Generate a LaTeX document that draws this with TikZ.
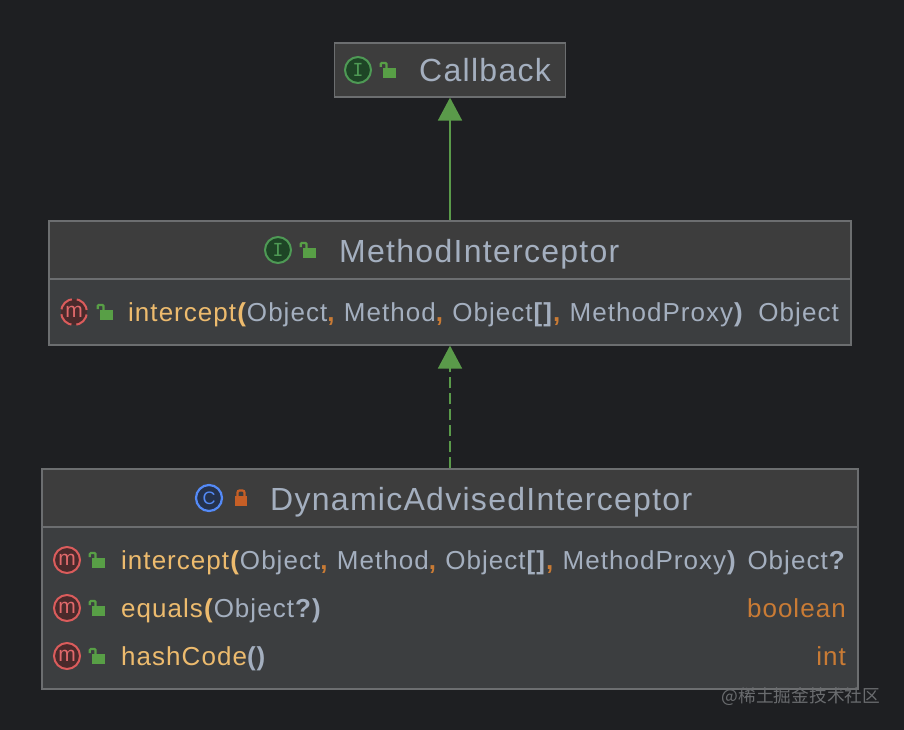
\documentclass[tikz,border=0pt]{standalone}
\usepackage{fontspec}
\setmainfont{Liberation Sans}[LetterSpace=4]
\newfontfamily\cjkmark{Noto Sans CJK SC}
\newfontfamily\monoicon{DejaVu Sans Mono}
\newfontfamily\iconsans{Liberation Sans}
\usetikzlibrary{arrows.meta}
\definecolor{bgc}{HTML}{1E1F22}
\definecolor{boxfill}{HTML}{3C3E40}
\definecolor{titlefill}{HTML}{3D3D3D}
\definecolor{boxline}{HTML}{6C6E70}
\definecolor{txt}{HTML}{A4AFBF}
\definecolor{yel}{HTML}{EDBB6E}
\definecolor{ora}{HTML}{C97B35}
\definecolor{grn}{HTML}{5A9A4A}
\definecolor{lockg}{HTML}{589F46}
\definecolor{iring}{HTML}{4E9A55}
\definecolor{ifill}{HTML}{1E4526}
\definecolor{mring}{HTML}{DB5C5C}
\definecolor{mfill}{HTML}{4A2A2B}
\definecolor{mtxt}{HTML}{E0696B}
\definecolor{cring}{HTML}{548AF7}
\definecolor{cfill}{HTML}{25324D}
\definecolor{priv}{HTML}{C75F26}
\definecolor{wm}{HTML}{6A6C6F}
\newcommand{\lp}{\textbf{(}}
\newcommand{\rp}{\textbf{)}}
\newcommand{\cm}{\textcolor{ora}{\textbf{,}}}
\newcommand{\args}{\textcolor{yel}{intercept\lp}Object\cm{} Method\cm{} Object\textbf{[]}\cm{} MethodProxy\rp}
\tikzset{
  x=1pt,y=-1pt,
  umlbox/.style={draw=boxline,line width=1.2pt,fill=boxfill},
  sepline/.style={draw=boxline,line width=1.4pt},
  titletext/.style={inner sep=0pt,anchor=base west,text=txt,font=\fontsize{32}{36}\selectfont},
  membertext/.style={inner sep=0pt,anchor=base west,text=txt,font=\fontsize{26}{30}\selectfont},
  typetext/.style={inner sep=0pt,anchor=base east,text=txt,font=\fontsize{26}{30}\selectfont},
  inherit/.style={draw=grn,line width=1.8pt,-{Triangle[length=23pt,width=24pt,fill=grn]}},
  realize/.style={inherit,dash pattern=on 11pt off 5pt},
  pics/openlock/.style={code={
    \fill[lockg] (-5,-2) rectangle (8,8);
    \draw[lockg,line width=2.2pt,rounded corners=1pt] (-7.2,-3) -- (-7.2,-7) -- (-1.5,-7) -- (-1.5,-2);
  }},
  pics/privlock/.style={code={
    \fill[priv] (-6,-2) rectangle (6,8);
    \draw[priv,line width=2.2pt,rounded corners=2pt] (-3.5,-2) -- (-3.5,-7.5) -- (3.5,-7.5) -- (3.5,-2);
  }},
  pics/ifaceicon/.style={code={
    \draw[iring,fill=ifill,line width=2pt] (0,0) circle[radius=13];
    \node[inner sep=0pt,text=iring,font=\monoicon\fontsize{18}{18}\selectfont] (-t) at (0,0) {I};
  }},
  pics/classicon/.style={code={
    \draw[cring,fill=cfill,line width=2.2pt] (0,0) circle[radius=13];
    \node[inner sep=0pt,text=cring,font=\iconsans\fontsize{18}{18}\selectfont] (-t) at (0,0) {C};
  }},
  pics/methicon/.style={code={
    \draw[mring,fill=mfill,line width=2pt] (0,0) circle[radius=13];
    \node[inner sep=0pt,text=mtxt,font=\iconsans\fontsize{21}{21}\selectfont,anchor=base] (-t) at (0,5.5) {m};
  }},
  pics/absicon/.style={code={
    \fill[mfill] (0,0) circle[radius=13];
    \draw[mring,line width=2pt,dash pattern=on 15.4pt off 5pt,dash phase=-2.5pt] (0,0) circle[radius=13];
    \node[inner sep=0pt,text=mtxt,font=\iconsans\fontsize{21}{21}\selectfont,anchor=base] (-t) at (0,5.5) {m};
  }},
}
\begin{document}
\begin{tikzpicture}
\useasboundingbox (0,0) rectangle (904,730);
\fill[bgc] (0,0) rectangle (904,730);

% Callback
\node[umlbox,fill=titlefill,minimum width=231pt,minimum height=54pt,inner sep=0pt] (cb) at (450,70) {};
\pic (cbi) at (358,70) {ifaceicon};
\pic (cbl) at (388,70) {openlock};
\node[titletext] (cbt) at (419,82) {Callback};

% MethodInterceptor
\node[umlbox,minimum width=802pt,minimum height=124pt,inner sep=0pt] (mi) at (450,283) {};
\fill[titlefill] (49.6,221.6) rectangle (850.4,279);
\draw[sepline] (49,279) -- (851,279);
\pic (mii) at (278,250) {ifaceicon};
\pic (mil) at (308,250) {openlock};
\node[titletext] (mit) at (339,262) {MethodInterceptor};
\pic (mim) at (74,312) {absicon};
\pic (mil2) at (105,312) {openlock};
\node[membertext] (mim1) at (128,321) {\args};
\node[typetext] (mit1) at (839,321) {Object};

% DynamicAdvisedInterceptor
\node[umlbox,minimum width=816pt,minimum height=220pt,inner sep=0pt] (dy) at (450,579) {};
\fill[titlefill] (42.6,469.6) rectangle (857.4,527);
\draw[sepline] (42,527) -- (858,527);
\pic (dyc) at (209,498) {classicon};
\pic (dyl) at (241,498) {privlock};
\node[titletext] (dyt) at (270,510) {DynamicAdvisedInterceptor};

\pic (m1) at (67,560) {methicon};
\pic (l1) at (97,560) {openlock};
\node[membertext] (t1) at (121,569) {\args};
\node[typetext] (r1) at (846,569) {Object\textbf{?}};

\pic (m2) at (67,608) {methicon};
\pic (l2) at (97,608) {openlock};
\node[membertext] (t2) at (121,617) {\textcolor{yel}{equals\lp}Object\textbf{?}\rp};
\node[typetext,text=ora] (r2) at (846,617) {boolean};

\pic (m3) at (67,656) {methicon};
\pic (l3) at (97,656) {openlock};
\node[membertext] (t3) at (121,665) {\textcolor{yel}{hashCode}\textbf{()}};
\node[typetext,text=ora] (r3) at (846,665) {int};

% connectors
\draw[inherit] (mi.north) -- (cb.south);
\draw[realize] (dy.north) -- (mi.south);

% watermark
\node[inner sep=0pt,text=wm,font=\cjkmark\fontsize{17.7}{20}\selectfont] (wmk) at (801,697) {@稀土掘金技术社区};
\end{tikzpicture}
\end{document}
